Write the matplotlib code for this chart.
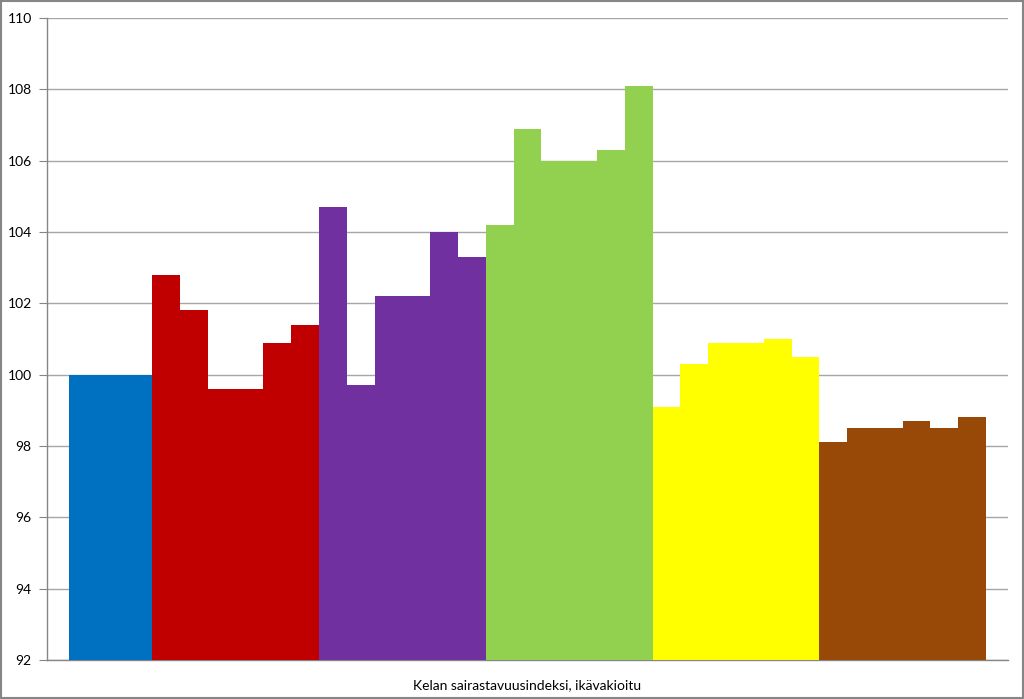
import matplotlib.pyplot as plt
from matplotlib.patches import Rectangle

plt.rcParams['font.family'] = ['Lato', 'DejaVu Sans']

category = "Kelan sairastavuusindeksi, ikävakioitu"

# arvot ryhmittäin (luettu kuvasta)
blue_vals = [100.0, 100.0, 100.0]
red_vals = [102.8, 101.8, 99.6, 99.6, 100.9, 101.4]
purple_vals = [104.7, 99.7, 102.2, 102.2, 104.0, 103.3]
green_vals = [104.2, 106.9, 106.0, 106.0, 106.3, 108.1]
yellow_vals = [99.1, 100.3, 100.9, 100.9, 101.0, 100.5]
brown_vals = [98.1, 98.5, 98.5, 98.7, 98.5, 98.8]

groups = [blue_vals, red_vals, purple_vals, green_vals, yellow_vals, brown_vals]
colors = ['#0070C0', '#C00000', '#7030A0', '#92D050', '#FFFF00', '#984807']

y_ticks = list(range(92, 111, 2))

fig = plt.figure(figsize=(10.24, 6.99), dpi=100)
ax = fig.add_axes([47/1024, 1 - 660/699, (1008-47)/1024, (660-18)/699])

pos = 0
for vals, col in zip(groups, colors):
    for v in vals:
        ax.bar(pos, v - 92, bottom=92, width=1.0, color=col, linewidth=0, zorder=3)
        pos += 1

n = pos
ax.set_xlim(-0.5 - 0.79, n - 0.5 + 0.79)
ax.set_ylim(92, 110)
ax.set_yticks(y_ticks)
ax.tick_params(axis='y', direction='out', length=6, color='#868686', labelsize=10, pad=5)
ax.set_xticks([])
ax.yaxis.grid(True, color='#A6A6A6', linewidth=1.0, zorder=0)
ax.set_axisbelow(True)

for s in ['top', 'right']:
    ax.spines[s].set_visible(False)
for s in ['left', 'bottom']:
    ax.spines[s].set_color('#868686')
    ax.spines[s].set_linewidth(1.0)

ax.text(0.5, -0.03, category, transform=ax.transAxes, ha='center', va='top', fontsize=10)

fig.patches.append(Rectangle((0.001, 0.001), 0.998, 0.997, transform=fig.transFigure,
                             fill=False, edgecolor='#868686', linewidth=1.5))

fig.savefig('out.png', dpi=100)
